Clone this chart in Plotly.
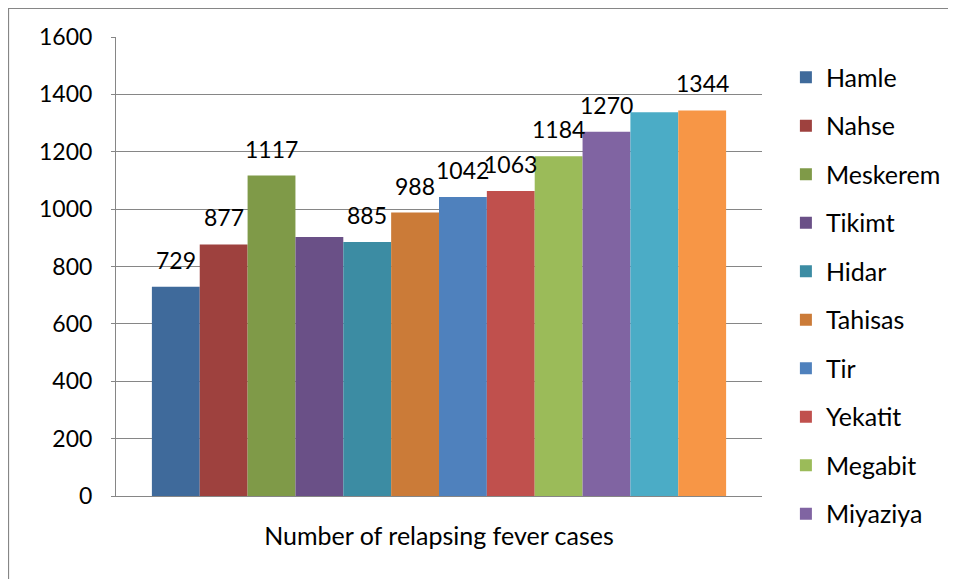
import plotly.graph_objects as go

months = ["Hamle", "Nahse", "Meskerem", "Tikimt", "Hidar", "Tahisas",
          "Tir", "Yekatit", "Megabit", "Miyaziya", "Ginbot", "Sene"]
cases = [729, 877, 1117, 903, 885, 988, 1042, 1063, 1184, 1270, 1338, 1344]
labels = ["729", "877", "1117", "", "885", "988", "1042", "1063", "1184", "1270", "", "1344"]
colors = ["#3F6A9B", "#9E413E", "#7F9A48", "#6A5087", "#3C8CA3", "#CB7B38",
          "#4F81BD", "#C0504D", "#9BBB59", "#8064A2", "#4BACC6", "#F79646"]
in_legend = [True] * 10 + [False, False]
category = "Number of relapsing fever cases"
y_ticks = [0, 200, 400, 600, 800, 1000, 1200, 1400, 1600]

FONT = "Lato"
fig = go.Figure()
for i, (m, v, c) in enumerate(zip(months, cases, colors)):
    fig.add_trace(go.Bar(
        x=[i], y=[v], name=m, marker=dict(color=c, line=dict(width=0)),
        width=1.0, showlegend=in_legend[i], legendgroup=m,
        hoverinfo="name+y",
    ))
    if labels[i]:
        fig.add_annotation(x=i, y=v, text=labels[i], showarrow=False,
                           yshift=27, yanchor="middle",
                           font=dict(family=FONT, size=23, color="#000000"))

gray = "#868686"
fig.update_layout(
    width=956, height=579,
    margin=dict(l=108, r=202, t=29, b=91),
    paper_bgcolor="white", plot_bgcolor="white",
    barmode="overlay",
    showlegend=True,
    legend=dict(x=1.037, xanchor="left", y=0.962, yanchor="top",
                traceorder="grouped", tracegroupgap=13, maxheight=800,
                font=dict(family=FONT, size=25, color="#000000"),
                itemclick=False, itemdoubleclick=False),
    xaxis=dict(range=[-1.25, 12.25], tickmode="array", tickvals=[5.5],
               ticktext=[category], ticks="", showgrid=False,
               showline=True, linecolor=gray, linewidth=1,
               ticklabelstandoff=18,
               tickfont=dict(family=FONT, size=25, color="#000000"),
               zeroline=False, fixedrange=True),
    yaxis=dict(range=[0, 1600], tickmode="array", tickvals=y_ticks,
               showgrid=True, gridcolor=gray, gridwidth=1,
               showline=True, linecolor=gray, linewidth=1,
               ticks="outside", ticklen=4, tickcolor=gray,
               ticklabelstandoff=14,
               tickfont=dict(family=FONT, size=23, color="#000000"),
               zeroline=False, fixedrange=True),
    shapes=[dict(type="rect", xref="paper", yref="paper",
                 x0=-0.167, x1=1.6, y0=-0.5, y1=1.0632,
                 line=dict(color=gray, width=2), fillcolor="rgba(0,0,0,0)",
                 layer="below")],
)

fig.write_html("out.html")
